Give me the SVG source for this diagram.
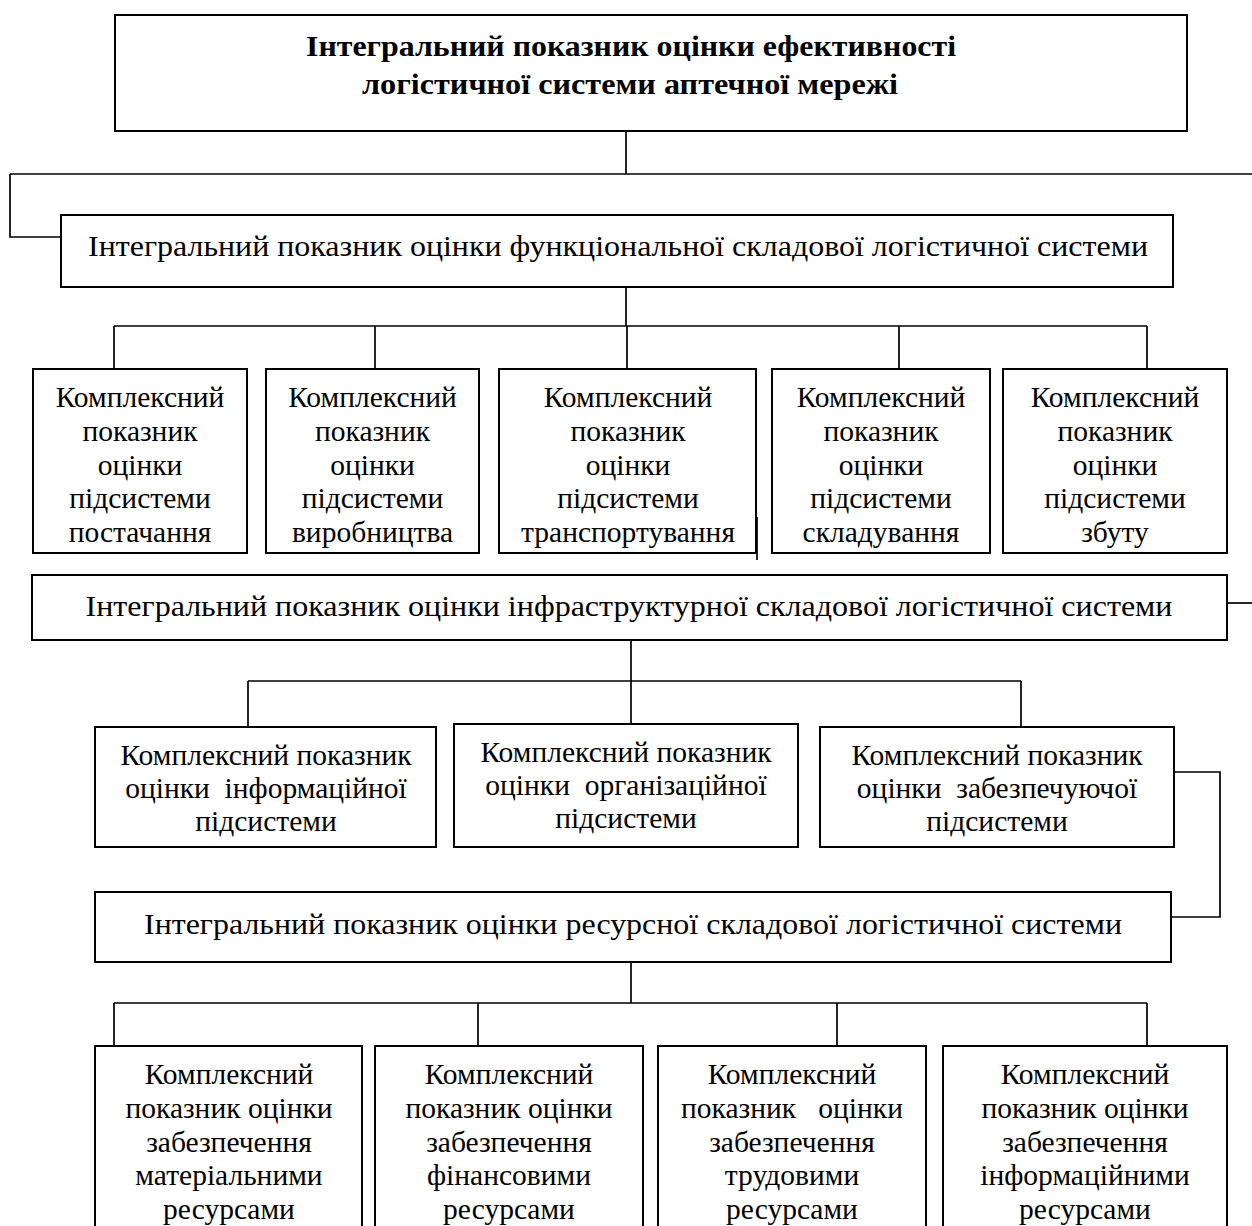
<svg xmlns="http://www.w3.org/2000/svg" width="1252" height="1226" viewBox="0 0 1252 1226">
<style>
.box{fill:#fff;stroke:#000;stroke-width:2}
.ln{fill:none;stroke:#000;stroke-width:1.7}
text{font-family:"Liberation Serif","Times New Roman",serif;font-size:29.5px;fill:#000;text-anchor:middle}
.b{font-weight:bold;font-size:30px}
.w{font-size:30px}
.pre{white-space:pre}
</style>
<defs>
<clipPath id="c1" clipPathUnits="userSpaceOnUse"><rect x="33" y="369" width="214" height="182"/></clipPath>
<clipPath id="c2" clipPathUnits="userSpaceOnUse"><rect x="266" y="369" width="213" height="182"/></clipPath>
<clipPath id="c3" clipPathUnits="userSpaceOnUse"><rect x="499" y="369" width="258" height="182"/></clipPath>
<clipPath id="c4" clipPathUnits="userSpaceOnUse"><rect x="772" y="369" width="218" height="182"/></clipPath>
<clipPath id="c5" clipPathUnits="userSpaceOnUse"><rect x="1003" y="369" width="224" height="182"/></clipPath>
</defs>
<rect width="1252" height="1226" fill="#fff"/>

<g id="connectors">
<path class="ln" d="M626 131V174M10 174H1252M10 174V237H61"/>
<path class="ln" d="M626 287V326M114 326H1147M114 326V369M375 326V369M627 326V369M899 326V369M1147 326V369"/>
<path class="ln" d="M757 517V560"/>
<path class="ln" d="M1227 603H1252"/>
<path class="ln" d="M631 640V681M248 681H1021M248 681V727M631 681V724M1021 681V727"/>
<path class="ln" d="M1174 772H1220V917H1171"/>
<path class="ln" d="M631 962V1003M114 1003H1147M114 1003V1046M478 1003V1046M837 1003V1046M1147 1003V1046"/>
</g>

<g id="n-top">
<rect class="box" x="115" y="15" width="1072" height="116"/>
<text class="b" x="631" y="56" textLength="650" lengthAdjust="spacingAndGlyphs">Інтегральний показник оцінки ефективності</text>
<text class="b" x="630" y="94" textLength="536" lengthAdjust="spacingAndGlyphs">логістичної системи аптечної мережі</text>
</g>

<g id="n-func">
<rect class="box" x="61" y="215" width="1112" height="72"/>
<text class="w" x="618" y="256" textLength="1060" lengthAdjust="spacingAndGlyphs">Інтегральний показник оцінки функціональної складової логістичної системи</text>
</g>

<g id="n-f1">
<rect class="box" x="33" y="369" width="214" height="184"/>
<g clip-path="url(#c1)">
<text x="140" y="407">Комплексний</text><text x="140" y="441">показник</text><text x="140" y="474.5">оцінки</text><text x="140" y="508">підсистеми</text><text x="140" y="542">постачання</text>
</g>
</g>
<g id="n-f2">
<rect class="box" x="266" y="369" width="213" height="184"/>
<g clip-path="url(#c2)">
<text x="372.5" y="407">Комплексний</text><text x="372.5" y="441">показник</text><text x="372.5" y="474.5">оцінки</text><text x="372.5" y="508">підсистеми</text><text x="372.5" y="542">виробництва</text>
</g>
</g>
<g id="n-f3">
<rect class="box" x="499" y="369" width="257" height="184"/>
<g clip-path="url(#c3)">
<text x="628" y="407">Комплексний</text><text x="628" y="441">показник</text><text x="628" y="474.5">оцінки</text><text x="628" y="508">підсистеми</text><text x="628" y="542">транспортування</text>
</g>
</g>
<g id="n-f4">
<rect class="box" x="772" y="369" width="218" height="184"/>
<g clip-path="url(#c4)">
<text x="881" y="407">Комплексний</text><text x="881" y="441">показник</text><text x="881" y="474.5">оцінки</text><text x="881" y="508">підсистеми</text><text x="881" y="542">складування</text>
</g>
</g>
<g id="n-f5">
<rect class="box" x="1003" y="369" width="224" height="184"/>
<g clip-path="url(#c5)">
<text x="1115" y="407">Комплексний</text><text x="1115" y="441">показник</text><text x="1115" y="474.5">оцінки</text><text x="1115" y="508">підсистеми</text><text x="1115" y="542">збуту</text>
</g>
</g>

<g id="n-infra">
<rect class="box" x="32" y="575" width="1195" height="65"/>
<text class="w" x="629" y="616" textLength="1087" lengthAdjust="spacingAndGlyphs">Інтегральний показник оцінки інфраструктурної складової логістичної системи</text>
</g>

<g id="n-i1">
<rect class="box" x="95" y="727" width="341" height="120"/>
<text x="266" y="765">Комплексний показник</text>
<text class="pre" x="266" y="798" xml:space="preserve">оцінки  інформаційної</text>
<text x="266" y="831">підсистеми</text>
</g>
<g id="n-i2">
<rect class="box" x="454" y="724" width="344" height="123"/>
<text x="626" y="762">Комплексний показник</text>
<text class="pre" x="626" y="795" xml:space="preserve">оцінки  організаційної</text>
<text x="626" y="828">підсистеми</text>
</g>
<g id="n-i3">
<rect class="box" x="820" y="727" width="354" height="120"/>
<text x="997" y="765">Комплексний показник</text>
<text class="pre" x="997" y="798" xml:space="preserve">оцінки  забезпечуючої</text>
<text x="997" y="831">підсистеми</text>
</g>

<g id="n-res">
<rect class="box" x="95" y="892" width="1076" height="70"/>
<text class="w" x="633" y="934" textLength="978" lengthAdjust="spacingAndGlyphs">Інтегральний показник оцінки ресурсної складової логістичної системи</text>
</g>

<g id="n-r1">
<rect class="box" x="95" y="1046" width="267" height="200"/>
<text x="229" y="1084">Комплексний</text><text x="229" y="1118">показник оцінки</text><text x="229" y="1151.5">забезпечення</text><text x="229" y="1185">матеріальними</text><text x="229" y="1219">ресурсами</text>
</g>
<g id="n-r2">
<rect class="box" x="375" y="1046" width="268" height="200"/>
<text x="509" y="1084">Комплексний</text><text x="509" y="1118">показник оцінки</text><text x="509" y="1151.5">забезпечення</text><text x="509" y="1185">фінансовими</text><text x="509" y="1219">ресурсами</text>
</g>
<g id="n-r3">
<rect class="box" x="658" y="1046" width="268" height="200"/>
<text x="792" y="1084">Комплексний</text><text class="pre" x="792" y="1118" xml:space="preserve">показник   оцінки</text><text x="792" y="1151.5">забезпечення</text><text x="792" y="1185">трудовими</text><text x="792" y="1219">ресурсами</text>
</g>
<g id="n-r4">
<rect class="box" x="943" y="1046" width="284" height="200"/>
<text x="1085" y="1084">Комплексний</text><text x="1085" y="1118">показник оцінки</text><text x="1085" y="1151.5">забезпечення</text><text x="1085" y="1185">інформаційними</text><text x="1085" y="1219">ресурсами</text>
</g>
</svg>
